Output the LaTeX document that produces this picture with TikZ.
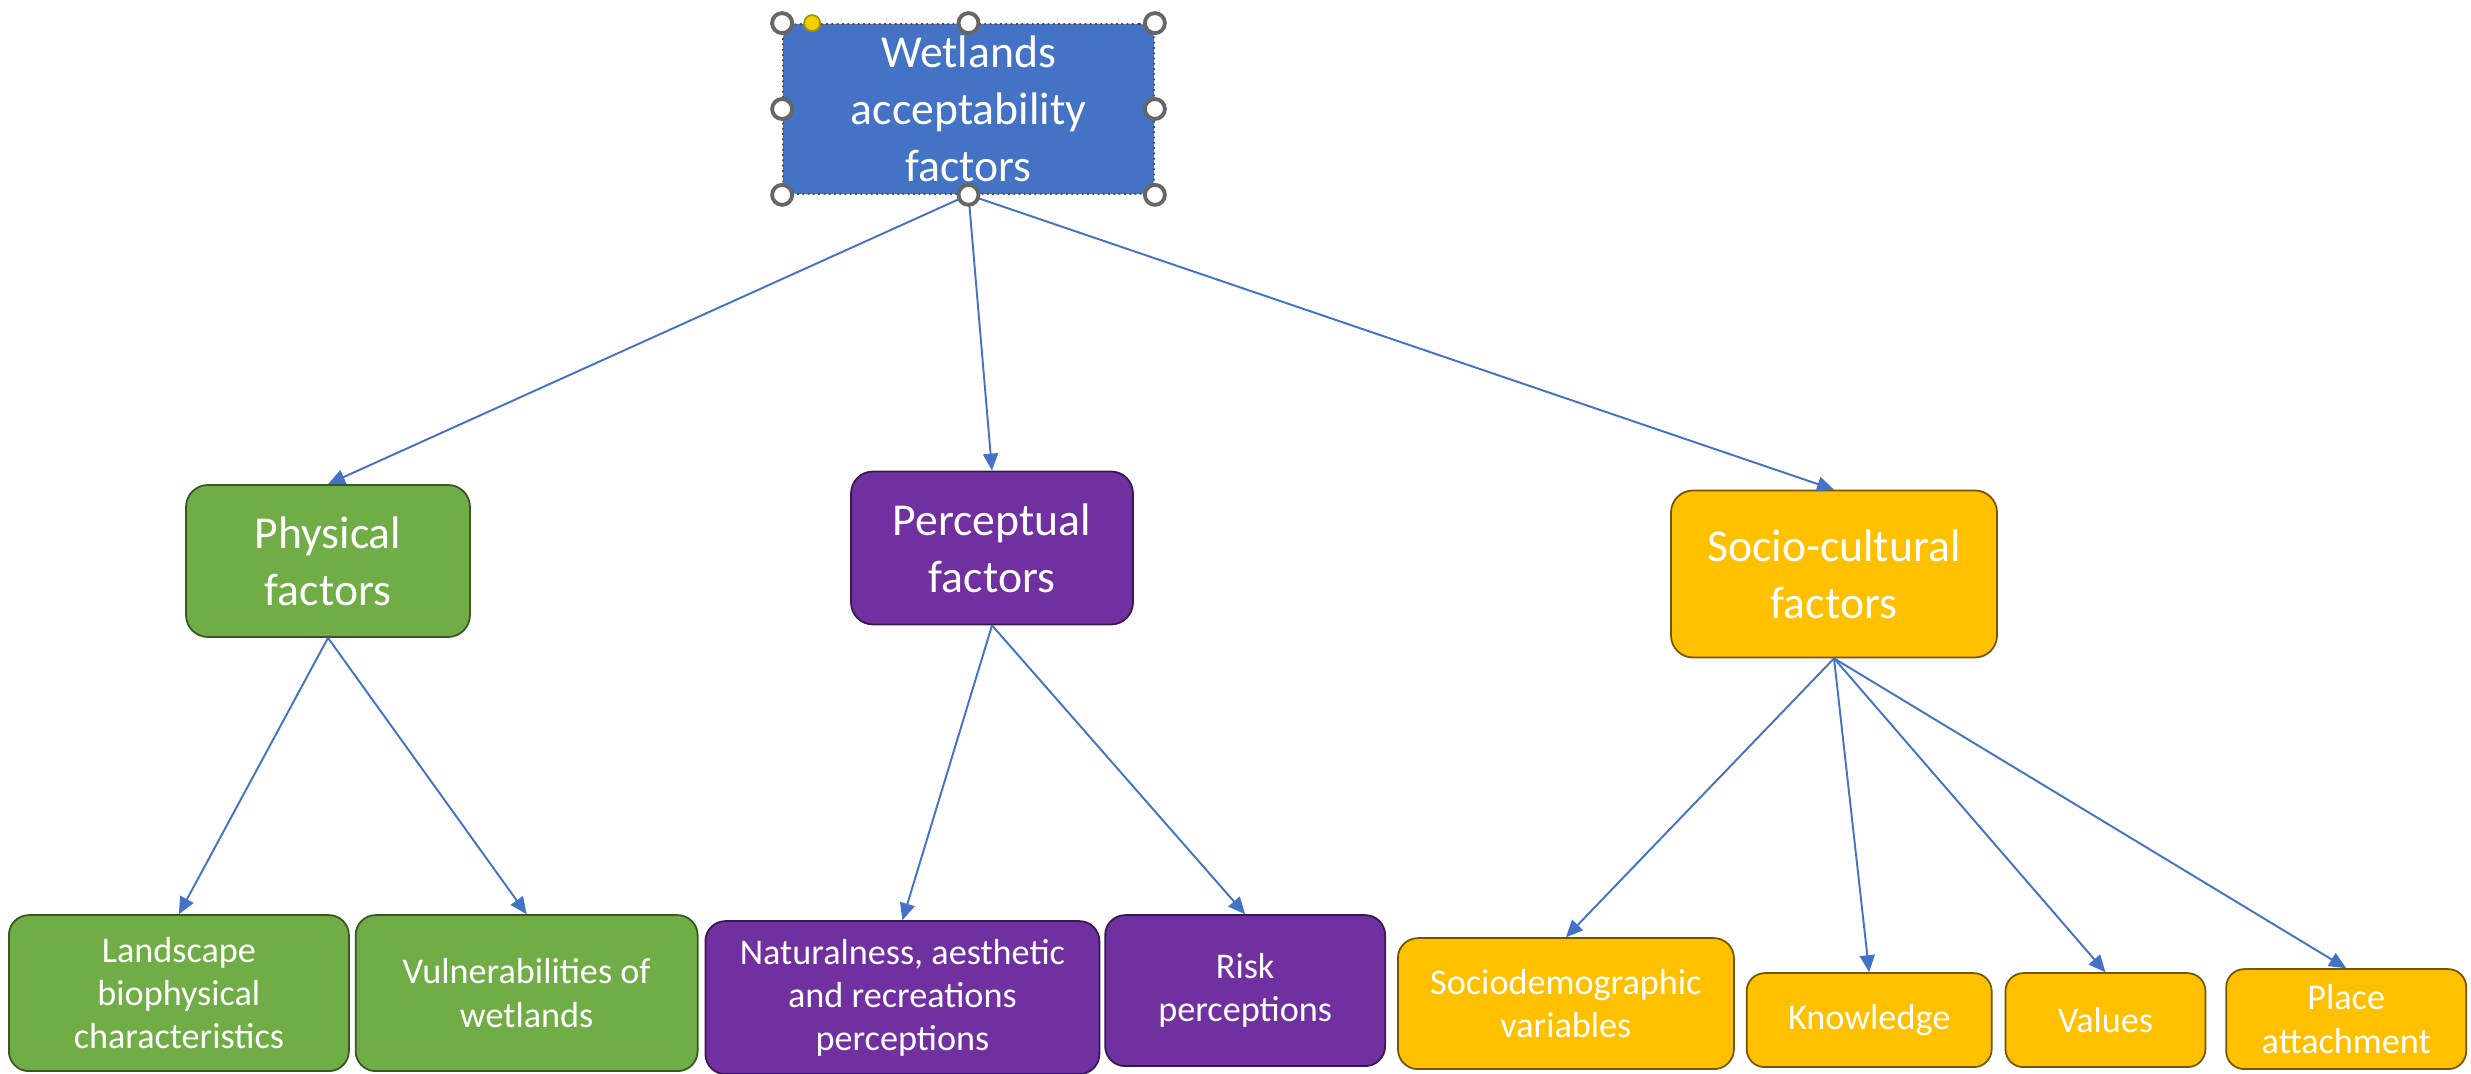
\documentclass[tikz,border=0pt]{standalone}
\usepackage{fontspec}
\setmainfont{Carlito}
\usetikzlibrary{positioning, arrows.meta}

\definecolor{wetBlue}{HTML}{4472C4}
\definecolor{physGreen}{HTML}{70AD47}
\definecolor{percPurple}{HTML}{7030A0}
\definecolor{socGold}{HTML}{FFC000}
\definecolor{gripYellow}{HTML}{F2D000}

\tikzset{
    factor/.style={draw, rounded corners=2.2mm, align=center, text=white, inner sep=1pt, line width=0.5pt},
    physical/.style={factor, fill=physGreen, draw=physGreen!50!black},
    perceptual/.style={factor, fill=percPurple, draw=percPurple!50!black},
    social/.style={factor, fill=socGold, draw=socGold!45!black},
    bigtext/.style={font=\fontsize{13}{16.2}\selectfont},
    smalltext/.style={font=\fontsize{10.3}{12.3}\selectfont},
    link/.style={->, draw=wetBlue, line width=0.55pt},
    handle/.style={circle, draw=black!60, fill=white, line width=1.1pt, minimum size=2mm, inner sep=0pt},
}

\begin{document}
\begin{tikzpicture}[>={Triangle[length=1.7mm, width=1.5mm]}]
        \useasboundingbox (0, 0) rectangle (24.71, 10.74);
        % top
        \node[factor, bigtext, fill=wetBlue, draw=black!70, densely dotted, rounded corners=1.5mm,
            minimum width=3.71cm, minimum height=1.70cm] (wetlands) at (9.685, 9.65) {Wetlands\\acceptability\\factors};
        % middle row
        \node[physical, bigtext, minimum width=2.84cm, minimum height=1.52cm] (physical) at (3.28, 5.13) {Physical\\factors};
        \node[perceptual, bigtext, minimum width=2.82cm, minimum height=1.53cm] (perceptual) at (9.92, 5.26) {Perceptual\\factors};
        \node[social, bigtext, minimum width=3.26cm, minimum height=1.67cm] (social) at (18.34, 5.00) {Socio-cultural\\factors};
        % bottom row
        \node[physical, smalltext, anchor=south west, rounded corners=2mm, minimum width=3.40cm, minimum height=1.56cm] (landscape) at (0.08, 0.02) {Landscape\\biophysical\\characteristics};
        \node[physical, smalltext, right = 0.5mm of landscape.south east, anchor=south west, rounded corners=2mm,
            minimum width=3.42cm, minimum height=1.56cm] (vulnerability) {Vulnerabilities of\\wetlands};
        \node[perceptual, smalltext, right = 0.6mm of vulnerability.south east, anchor=south west, yshift=-0.3mm, rounded corners=2mm,
            minimum width=3.94cm, minimum height=1.53cm] (naturalness) {Naturalness, aesthetic\\and recreations\\perceptions};
        \node[perceptual, smalltext, right = 0.4mm of naturalness.south east, anchor=south west, yshift=0.8mm, rounded corners=2mm,
            minimum width=2.80cm, minimum height=1.51cm] (risk) {Risk\\perceptions};
        \node[social, smalltext, right = 1.1mm of risk.south east, anchor=south west, yshift=-0.3mm, rounded corners=2mm,
            minimum width=3.36cm, minimum height=1.31cm] (sociodemo) {Sociodemographic\\variables};
        \node[social, smalltext, right = 1.1mm of sociodemo.south east, anchor=south west, yshift=0.2mm, rounded corners=1.8mm,
            minimum width=2.45cm, minimum height=0.94cm] (knowledge) {Knowledge};
        \node[social, smalltext, right = 1.2mm of knowledge.south east, anchor=south west, rounded corners=1.8mm,
            minimum width=2.00cm, minimum height=0.94cm] (values) {Values};
        \node[social, smalltext, right = 1.9mm of values.south east, anchor=south west, yshift=-0.2mm, rounded corners=1.8mm,
            minimum width=2.40cm, minimum height=1.00cm] (place) {Place\\attachment};
        % connectors
        \draw[link] (wetlands.south) -- (physical.north);
        \draw[link] (wetlands.south) -- (perceptual.north);
        \draw[link] (wetlands.south) -- (social.north);
        \draw[link] (physical.south) -- (landscape.north);
        \draw[link] (physical.south) -- (vulnerability.north);
        \draw[link] (perceptual.south) -- (naturalness.north);
        \draw[link] (perceptual.south) -- (risk.north);
        \draw[link] (social.south) -- (sociodemo.north);
        \draw[link] (social.south) -- (knowledge.north);
        \draw[link] (social.south) -- (values.north);
        \draw[link] (social.south) -- (place.north);
        % selection grips
        \foreach \a [count=\i] in {north west, north, north east, west, east, south west, south, south east}
            \node[handle] (grip\i) at (wetlands.\a) {};
        \node[handle, fill=gripYellow, draw=gripYellow!70!black, line width=0.5pt, minimum size=1.6mm] (rotgrip) at ([xshift=3mm]wetlands.north west) {};
    \end{tikzpicture}
\end{document}
